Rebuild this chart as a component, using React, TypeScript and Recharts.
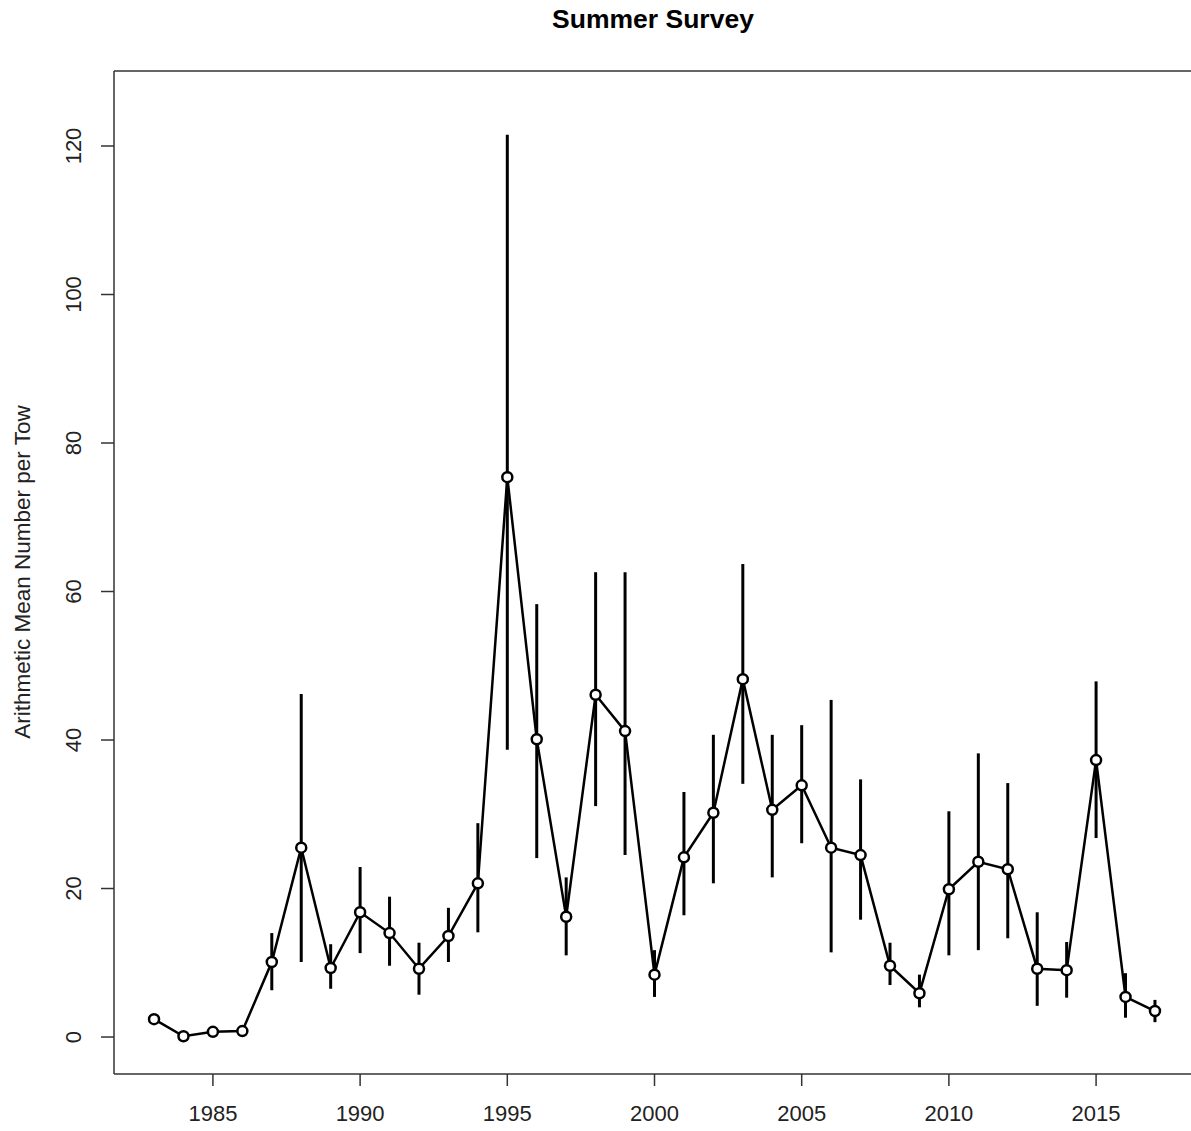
import {
  ComposedChart,
  ErrorBar,
  Line,
  ReferenceLine,
  XAxis,
  YAxis,
} from "recharts";

const years = [
  1983, 1984, 1985, 1986, 1987, 1988, 1989, 1990, 1991, 1992, 1993, 1994,
  1995, 1996, 1997, 1998, 1999, 2000, 2001, 2002, 2003, 2004, 2005, 2006,
  2007, 2008, 2009, 2010, 2011, 2012, 2013, 2014, 2015, 2016, 2017,
];

const means = [
  2.4, 0.1, 0.7, 0.8, 10.1, 25.5, 9.3, 16.8, 14.0, 9.2, 13.6, 20.7,
  75.4, 40.1, 16.2, 46.1, 41.2, 8.4, 24.2, 30.2, 48.2, 30.6, 33.9, 25.5,
  24.5, 9.6, 5.9, 19.9, 23.6, 22.6, 9.2, 9.0, 37.3, 5.4, 3.5,
];

const lower = [
  2.4, 0.1, 0.7, 0.8, 6.3, 10.1, 6.5, 11.3, 9.6, 5.7, 10.1, 14.1,
  38.7, 24.1, 11.0, 31.1, 24.5, 5.4, 16.4, 20.7, 34.1, 21.5, 26.1, 11.4,
  15.8, 7.0, 4.0, 11.0, 11.7, 13.3, 4.2, 5.3, 26.8, 2.6, 2.0,
];

const upper = [
  2.4, 0.1, 0.7, 0.8, 14.0, 46.2, 12.5, 22.9, 18.9, 12.7, 17.4, 28.8,
  121.5, 58.3, 21.5, 62.6, 62.6, 11.7, 33.0, 40.7, 63.7, 40.7, 42.0, 45.4,
  34.7, 12.7, 8.4, 30.4, 38.2, 34.2, 16.8, 12.8, 47.9, 8.6, 5.0,
];

const xTicks = [1985, 1990, 1995, 2000, 2005, 2010, 2015];
const yTicks = [0, 20, 40, 60, 80, 100, 120];

const data = years.map((year, i) => ({
  year,
  mean: means[i],
  err: [means[i] - lower[i], upper[i] - means[i]],
}));

const FONT = "'Liberation Sans', Arial, sans-serif";
const X_DOMAIN: [number, number] = [1981.64, 2018.36];
const Y_DOMAIN: [number, number] = [-4.98, 130.1];

function XTick(props: any) {
  const { x, y, payload } = props;
  return (
    <text
      x={x}
      y={y + 33}
      textAnchor="middle"
      fontSize={22}
      fontFamily={FONT}
      fill="#222"
    >
      {payload.value}
    </text>
  );
}

function YTick(props: any) {
  const { y, payload } = props;
  return (
    <text
      transform={`translate(81, ${y}) rotate(-90)`}
      textAnchor="middle"
      fontSize={22}
      fontFamily={FONT}
      fill="#222"
    >
      {payload.value}
    </text>
  );
}

export default function App() {
  return (
    <div
      style={{
        position: "absolute",
        left: 0,
        top: 0,
        width: 1191,
        height: 1131,
        overflow: "hidden",
        background: "#fff",
      }}
    >
      <svg
        width={1191}
        height={60}
        style={{ position: "absolute", left: 0, top: 0 }}
      >
        <text
          x={653}
          y={28}
          textAnchor="middle"
          fontSize={26.5}
          fontWeight="bold"
          fontFamily={FONT}
          fill="#000"
        >
          Summer Survey
        </text>
      </svg>
      <svg
        width={60}
        height={1131}
        style={{ position: "absolute", left: 0, top: 0 }}
      >
        <text
          transform="translate(30, 572) rotate(-90)"
          textAnchor="middle"
          fontSize={22.5}
          fontFamily={FONT}
          fill="#222"
        >
          Arithmetic Mean Number per Tow
        </text>
      </svg>
      <ComposedChart
        width={1196}
        height={1131}
        data={data}
        margin={{ top: 71, right: 1, bottom: 0, left: 0 }}
      >
        <XAxis
          dataKey="year"
          type="number"
          domain={X_DOMAIN}
          ticks={xTicks}
          allowDataOverflow
          height={57}
          tickSize={12}
          stroke="#333"
          strokeWidth={1.5}
          tick={<XTick />}
        />
        <YAxis
          type="number"
          domain={Y_DOMAIN}
          ticks={yTicks}
          allowDataOverflow
          width={114}
          tickSize={13}
          stroke="#333"
          strokeWidth={1.5}
          tick={<YTick />}
        />
        <ReferenceLine y={Y_DOMAIN[1]} stroke="#333" strokeWidth={1.5} />
        <Line
          dataKey="mean"
          stroke="#000"
          strokeWidth={2.5}
          isAnimationActive={false}
          dot={{ r: 5, stroke: "#000", strokeWidth: 2.5, fill: "#fff" }}
          activeDot={false}
        >
          <ErrorBar
            dataKey="err"
            direction="y"
            width={0}
            stroke="#000"
            strokeWidth={3}
            isAnimationActive={false}
          />
        </Line>
      </ComposedChart>
    </div>
  );
}
